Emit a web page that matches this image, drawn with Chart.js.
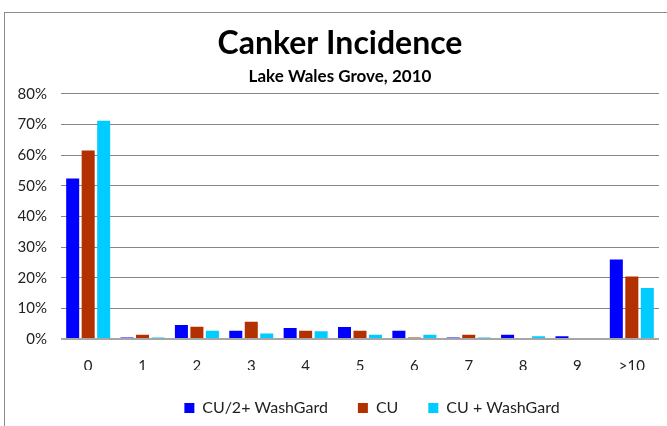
<!DOCTYPE html>
<html>
<head>
<meta charset="utf-8">
<script src="https://cdn.jsdelivr.net/npm/chart.js@4/dist/chart.umd.min.js"></script>
<style>
  html, body { margin: 0; padding: 0; background: #fff; }
  #wrap { width: 667px; height: 426px; }
</style>
</head>
<body>
<div id="wrap"><canvas id="cankerChart" width="667" height="426"></canvas></div>
<script>
// Canker incidence, Lake Wales Grove 2010 (percent of fruit per lesion count)
const categories = ['0', '1', '2', '3', '4', '5', '6', '7', '8', '9', '>10'];
const halfCuWashGard = [52.4, 0.5, 4.6, 2.7, 3.6, 3.9, 2.7, 0.5, 1.4, 0.9, 25.9];
const cuOnly = [61.5, 1.4, 4.0, 5.6, 2.7, 2.7, 0.5, 1.4, 0, 0, 20.4];
const cuWashGard = [71.2, 0.5, 2.7, 1.8, 2.5, 1.4, 1.4, 0.5, 0.9, 0, 16.6];
const seriesNames = ['CU/2+ WashGard', 'CU', 'CU + WashGard'];
const yTicks = [0, 10, 20, 30, 40, 50, 60, 70, 80];

const FONT = 'Lato, "Open Sans", sans-serif';

// thin grey frame like the Excel chart border
const framePlugin = {
    id: 'frame',
    beforeDraw(chart) {
        const ctx = chart.ctx;
        ctx.save();
        ctx.fillStyle = '#fff';
        ctx.fillRect(0, 0, chart.width, chart.height);
        ctx.strokeStyle = '#8c8c8c';
        ctx.lineWidth = 1;
        ctx.strokeRect(4.5, 12.5, chart.width + 10, chart.height + 10);
        ctx.restore();
    }
};

// the Excel titles and legend sit a bit right of centre
const shiftBoxes = {
    id: 'shiftBoxes',
    afterLayout(chart) {
        chart.legend.left += 40;
        chart.legend.right += 40;
        chart.boxes.forEach(b => {
            if (b !== chart.legend && b.options && typeof b.options.text === 'string') {
                b.left += 8;
                b.right += 8;
            }
        });
    }
};

const ctx = document.getElementById('cankerChart').getContext('2d');
const chart = new Chart(ctx, {
    type: 'bar',
    data: {
        labels: categories,
        datasets: [
            { label: seriesNames[0], data: halfCuWashGard, backgroundColor: '#0000ff' },
            { label: seriesNames[1], data: cuOnly, backgroundColor: '#b33000' },
            { label: seriesNames[2], data: cuWashGard, backgroundColor: '#00ccff' }
        ]
    },
    options: {
        responsive: false,
        animation: false,
        datasets: {
            bar: { categoryPercentage: 0.855, barPercentage: 0.84 }
        },
        layout: { padding: { left: 5, right: 8, top: 12, bottom: 0 } },
        plugins: {
            title: {
                display: true,
                text: 'Canker Incidence',
                color: '#000',
                font: { family: FONT, size: 32, weight: 'bold' },
                padding: { top: 12, bottom: 2 }
            },
            subtitle: {
                display: true,
                text: 'Lake Wales Grove, 2010',
                color: '#000',
                font: { family: FONT, size: 17, weight: 'bold' },
                padding: { top: 2, bottom: 7 }
            },
            legend: {
                position: 'bottom',
                labels: {
                    color: '#222',
                    boxWidth: 10,
                    boxHeight: 10,
                    padding: 30,
                    font: { family: FONT, size: 16 }
                }
            },
            tooltip: { enabled: false }
        },
        scales: {
            x: {
                grid: { display: false, drawTicks: false },
                border: { display: false },
                ticks: { color: '#222', padding: 18, font: { family: FONT, size: 15 } },
                afterFit: (scale) => { scale.height = 31; }
            },
            y: {
                min: 0,
                max: 80,
                afterBuildTicks: (scale) => { scale.ticks = yTicks.map(v => ({ value: v })); },
                grid: {
                    drawTicks: false,
                    color: (c) => c.tick && c.tick.value === 0 ? '#a6a6a6' : '#878787',
                    lineWidth: (c) => c.tick && c.tick.value === 0 ? 2 : 1
                },
                border: { display: false },
                ticks: {
                    color: '#222',
                    padding: 14,
                    font: { family: FONT, size: 15 },
                    callback: (v) => v + '%'
                },
                afterFit: (scale) => { scale.width = 56; }
            }
        }
    },
    plugins: [framePlugin, shiftBoxes]
});
</script>
</body>
</html>
